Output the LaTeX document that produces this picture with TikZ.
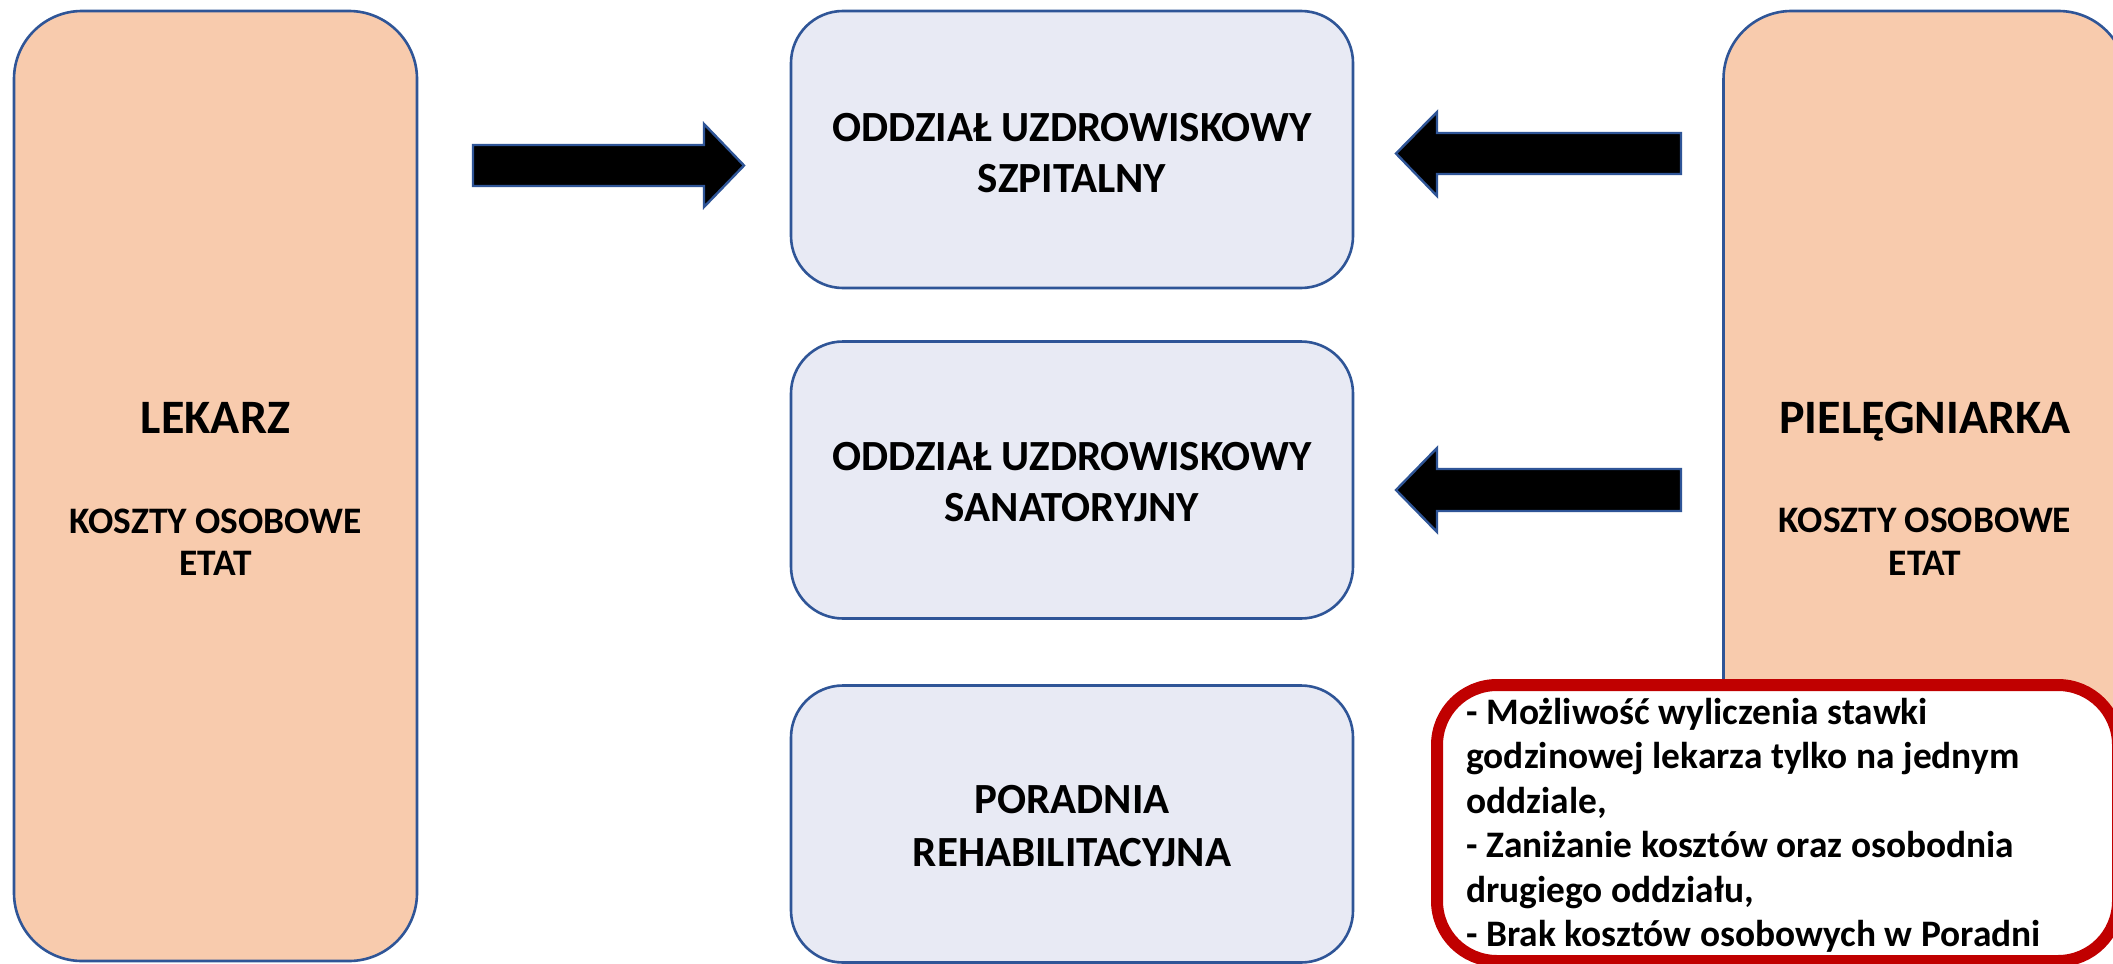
\documentclass[tikz,border=0pt]{standalone}
\usepackage{fontspec}
\setmainfont{Carlito}
\definecolor{frame}{HTML}{2F5597}
\definecolor{peach}{HTML}{F8CBAD}
\definecolor{pale}{HTML}{E8EAF4}
\definecolor{alert}{HTML}{C00000}
% stacked lines: font size, line distance, rows separated by \cr
\newcommand\centredlines[3]{\vtop{\fontsize{#1}{#2}\selectfont\bfseries\halign{\hfil##\hfil\cr#3\crcr}}}
\newcommand\leftlines[3]{\vtop{\fontsize{#1}{#2}\selectfont\bfseries\halign{##\hfil\cr#3\crcr}}}
\begin{document}
\begin{tikzpicture}[x=0.5pt,y=-0.5pt,
  box/.style={draw=frame,line width=1.3pt,rectangle,inner sep=0pt},
  person/.style={box,fill=peach,rounded corners=34pt,minimum width=201.5pt,minimum height=475pt},
  unit/.style={box,fill=pale,rounded corners=26pt,minimum width=281pt,minimum height=138.5pt},
  note/.style={rectangle,draw=alert,line width=6pt,fill=white,rounded corners=30pt,inner sep=0pt},
  blockarrow/.style={fill=black,draw=frame,line width=1.2pt,line join=miter},
  txt/.style={inner sep=0pt,anchor=base,font=\bfseries}]
\useasboundingbox (0,0) rectangle (2113,963);
\clip (0,0) rectangle (2113,963);
\fill[white] (0,0) rectangle (2113,963);

% staff columns
\node[person] (lekarz) at (215.5,486) {};
\node[person] (piel) at (1925,486) {};

% units
\node[unit] (szp) at (1072,149.5) {};
\node[unit] (san) at (1072,480) {};
\node[unit] (por) at (1072,824) {};

% block arrows
\draw[blockarrow] (473,145) -- (704,145) -- (704,124) -- (744,165.5) -- (704,207) -- (704,186) -- (473,186) -- cycle;
\draw[blockarrow] (1681,133) -- (1437,133) -- (1437,112) -- (1396,153.5) -- (1437,196) -- (1437,174) -- (1681,174) -- cycle;
\draw[blockarrow] (1681,469) -- (1437,469) -- (1437,448) -- (1396,490) -- (1437,532) -- (1437,511) -- (1681,511) -- cycle;

% labels
\node[txt] (lekarzT) at (215.5,433) {\fontsize{24pt}{28pt}\selectfont LEKARZ};
\node[txt] (lekarzK) at (215.5,533) {\centredlines{18.7pt}{21pt}{KOSZTY OSOBOWE\cr ETAT}};
\node[txt] (pielT) at (1925,433) {\fontsize{24pt}{28pt}\selectfont PIELĘGNIARKA};
\node[txt] (pielK) at (1925,532) {\centredlines{18.7pt}{21.5pt}{KOSZTY OSOBOWE\cr ETAT}};

\node[txt] (szpT) at (1072,141) {\centredlines{21.5pt}{25.5pt}{ODDZIAŁ UZDROWISKOWY\cr SZPITALNY}};
\node[txt] (sanT) at (1072,470) {\centredlines{21.5pt}{25.5pt}{ODDZIAŁ UZDROWISKOWY\cr SANATORYJNY}};
\node[txt] (porT) at (1072,813) {\centredlines{21.5pt}{26.5pt}{PORADNIA\cr REHABILITACYJNA}};

% remarks
\node[note,minimum width=340.5pt,minimum height=138pt] (uwagi) at (1777.5,823) {};
\node[txt,anchor=base west] (uwagiT) at (1466,724) {\leftlines{18.7pt}{22.25pt}{- Możliwość wyliczenia stawki\cr godzinowej lekarza tylko na jednym\cr oddziale,\cr - Zaniżanie kosztów oraz osobodnia\cr drugiego oddziału,\cr - Brak kosztów osobowych w Poradni}};
\end{tikzpicture}
\end{document}
